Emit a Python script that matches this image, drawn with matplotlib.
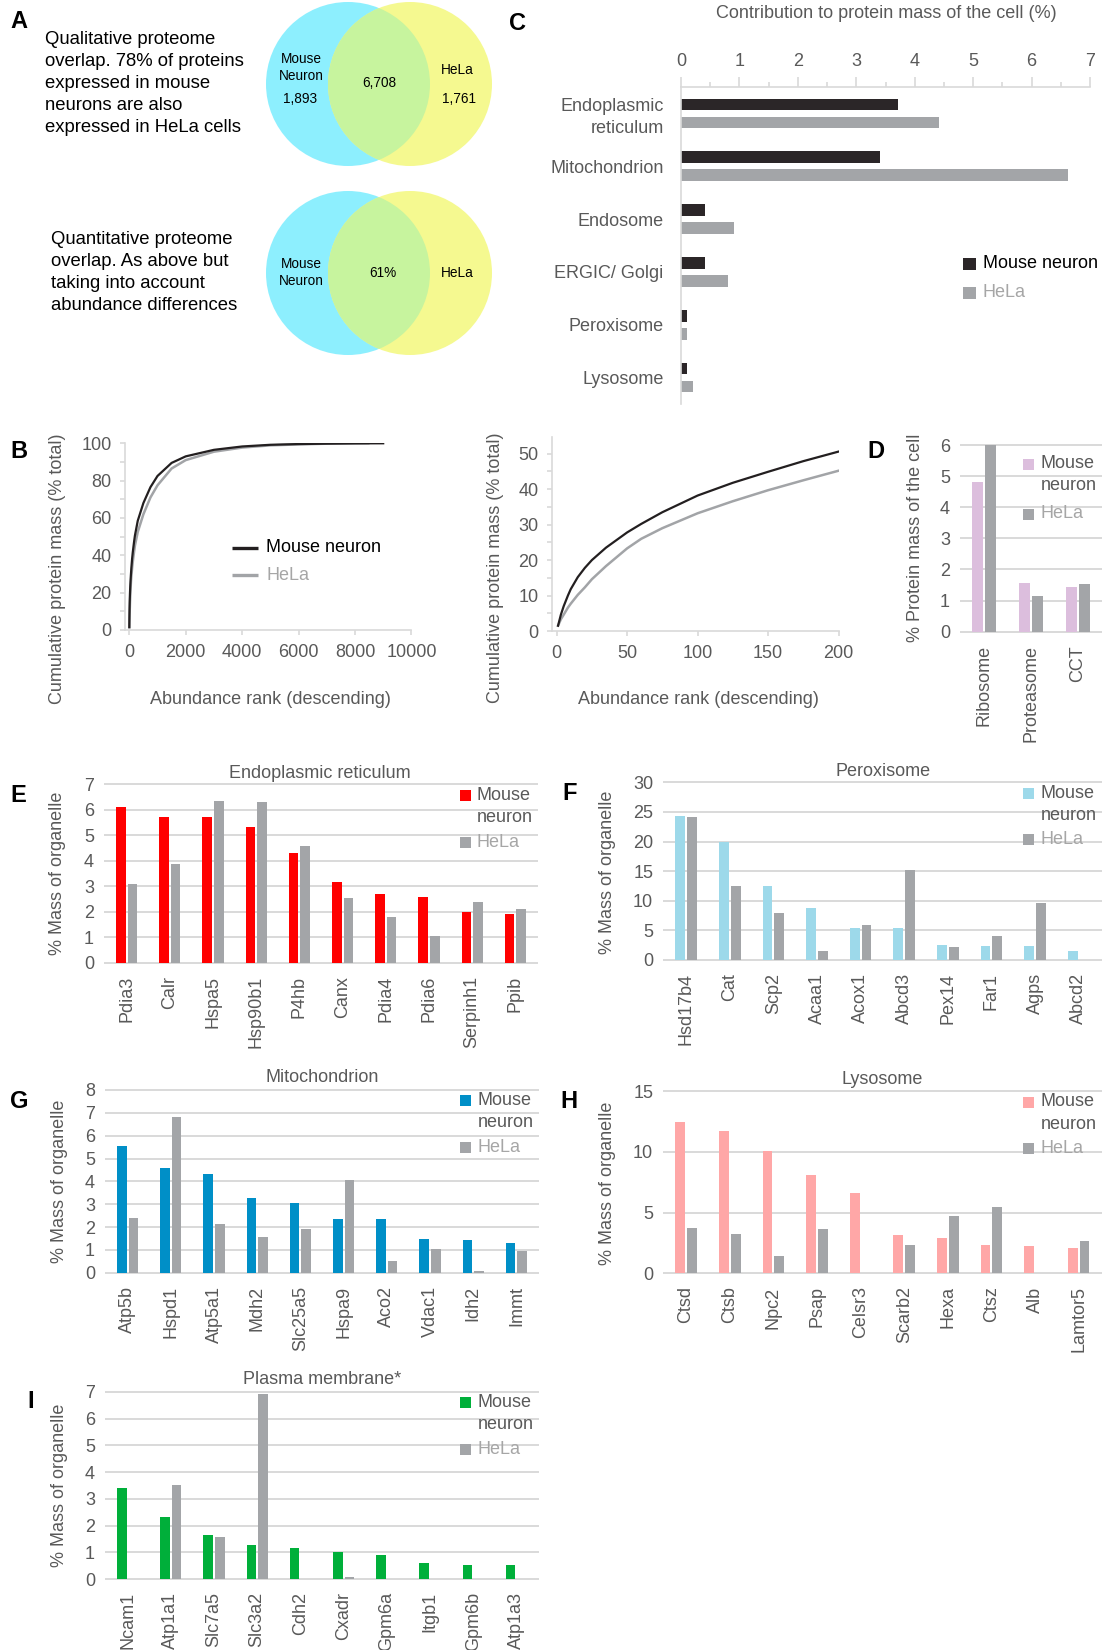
import matplotlib
matplotlib.use("Agg")
import matplotlib.pyplot as plt
from matplotlib.patches import Circle, Rectangle
from matplotlib.ticker import MultipleLocator
import numpy as np

plt.rcParams['font.family'] = ['Liberation Sans', 'DejaVu Sans']
plt.rcParams['font.size'] = 13

# ---------------- data ----------------
# A: proteome overlap
venn_only_mouse = 1893
venn_shared = 6708
venn_only_hela = 1761
qual_overlap_pct = 78
quant_overlap_pct = 61

# B: cumulative protein mass vs abundance rank
mouse_rank = [1, 3, 5, 8, 10, 15, 20, 25, 35, 50, 60, 75, 100, 125, 150, 175, 200,
              300, 500, 750, 1000, 1500, 2000, 3000, 4000, 5000, 6000, 7000, 8000, 9000]
mouse_cum = [1.5, 4.6, 7.0, 10.0, 11.8, 15.2, 17.8, 20.0, 23.5, 27.8, 30.2, 33.5, 38.2, 41.8,
             44.9, 47.9, 50.6, 58.5, 68.0, 76.5, 82.5, 89.5, 93.0, 96.5, 98.3, 99.2, 99.6,
             99.8, 99.95, 100.0]
hela_rank = [1, 3, 5, 8, 10, 15, 20, 25, 35, 50, 60, 75, 100, 125, 150, 175, 200,
             300, 500, 750, 1000, 1500, 2000, 3000, 4000, 5000, 6000, 7000, 8470]
hela_cum = [1.5, 3.3, 4.6, 6.6, 7.7, 10.2, 12.3, 14.6, 18.3, 23.3, 26.0, 29.0, 33.2, 36.6,
            39.7, 42.5, 45.2, 52.5, 62.0, 71.0, 77.5, 86.5, 91.0, 95.5, 97.7, 98.9, 99.4,
            99.8, 100.0]

# C: organelle contribution to protein mass (%)
c_categories = ["Endoplasmic\nreticulum", "Mitochondrion", "Endosome", "ERGIC/ Golgi",
                "Peroxisome", "Lysosome"]
c_mouse = [3.72, 3.41, 0.41, 0.41, 0.10, 0.10]
c_hela = [4.42, 6.63, 0.91, 0.81, 0.10, 0.20]

# D: complexes
d_categories = ["Ribosome", "Proteasome", "CCT"]
d_mouse = [4.82, 1.56, 1.44]
d_hela = [6.00, 1.15, 1.53]

# E: endoplasmic reticulum
er_genes = ["Pdia3", "Calr", "Hspa5", "Hsp90b1", "P4hb", "Canx", "Pdia4", "Pdia6",
            "Serpinh1", "Ppib"]
er_mouse = [6.10, 5.72, 5.72, 5.33, 4.30, 3.17, 2.70, 2.58, 1.99, 1.91]
er_hela = [3.09, 3.87, 6.35, 6.31, 4.58, 2.54, 1.79, 1.05, 2.38, 2.11]

# F: peroxisome
px_genes = ["Hsd17b4", "Cat", "Scp2", "Acaa1", "Acox1", "Abcd3", "Pex14", "Far1", "Agps",
            "Abcd2"]
px_mouse = [24.3, 20.0, 12.5, 8.8, 5.4, 5.4, 2.5, 2.4, 2.4, 1.5]
px_hela = [24.1, 12.5, 7.9, 1.5, 5.9, 15.2, 2.2, 4.05, 9.6, 0.0]

# G: mitochondrion
mt_genes = ["Atp5b", "Hspd1", "Atp5a1", "Mdh2", "Slc25a5", "Hspa9", "Aco2", "Vdac1", "Idh2",
            "Immt"]
mt_mouse = [5.55, 4.58, 4.32, 3.27, 3.05, 2.35, 2.35, 1.47, 1.43, 1.30]
mt_hela = [2.39, 6.82, 2.13, 1.56, 1.91, 4.06, 0.51, 1.04, 0.07, 0.95]

# H: lysosome
ly_genes = ["Ctsd", "Ctsb", "Npc2", "Psap", "Celsr3", "Scarb2", "Hexa", "Ctsz", "Alb",
            "Lamtor5"]
ly_mouse = [12.45, 11.7, 10.06, 8.09, 6.61, 3.15, 2.91, 2.33, 2.25, 2.08]
ly_hela = [3.73, 3.24, 1.43, 3.65, 0.0, 2.33, 4.72, 5.46, 0.0, 2.66]

# I: plasma membrane
pm_genes = ["Ncam1", "Atp1a1", "Slc7a5", "Slc3a2", "Cdh2", "Cxadr", "Gpm6a", "Itgb1",
            "Gpm6b", "Atp1a3"]
pm_mouse = [3.41, 2.32, 1.65, 1.27, 1.16, 1.01, 0.90, 0.60, 0.52, 0.52]
pm_hela = [0.0, 3.52, 1.56, 6.94, 0.0, 0.09, 0.0, 0.0, 0.0, 0.0]

# ---------------- styling ----------------
W, H = 1105, 1650
TXT = '#595959'
LIGHT = '#A6A6A6'
GRID = '#D9D9D9'
HELA = '#A3A5A8'
FS = 13

fig = plt.figure(figsize=(W / 100, H / 100), dpi=100)


def px_axes(x0, y0, x1, y1):
    """Axes placed by pixel box (top-left origin)."""
    return fig.add_axes([x0 / W, 1 - y1 / H, (x1 - x0) / W, (y1 - y0) / H])


canvas = px_axes(0, 0, W, H)
canvas.set_xlim(0, W)
canvas.set_ylim(H, 0)
canvas.axis('off')
canvas.set_zorder(10)


def letter(x, y, s):
    canvas.text(x, y, s, fontsize=17, fontweight='bold', ha='center', va='center',
                color='black')


def square_legend(x, y, color, dark='#595959', step1=22.3, step2=46.8, size=11):
    canvas.add_patch(Rectangle((x, y - size / 2), size, size, facecolor=color,
                               edgecolor='none'))
    canvas.add_patch(Rectangle((x, y + step2 - size / 2), size, size, facecolor=HELA,
                               edgecolor='none'))
    canvas.text(x + 17.5, y, "Mouse", fontsize=FS, color=dark, va='center', ha='left')
    canvas.text(x + 17.5, y + step1, "neuron", fontsize=FS, color=dark, va='center',
                ha='left')
    canvas.text(x + 17.5, y + step2, "HeLa", fontsize=FS, color=LIGHT, va='center',
                ha='left')


# ---------------- A: Venn diagrams ----------------
letter(19, 21, "A")
canvas.text(45, 83.5,
            "Qualitative proteome\noverlap. %d%% of proteins\nexpressed in mouse\n"
            "neurons are also\nexpressed in HeLa cells" % qual_overlap_pct,
            fontsize=13.3, ha='left', va='center', linespacing=1.38, color='black')
canvas.text(51, 272.5,
            "Quantitative proteome\noverlap. As above but\ntaking into account\n"
            "abundance differences",
            fontsize=13.3, ha='left', va='center', linespacing=1.38, color='black')


def venn(cy):
    blue = Circle((348, cy), 82, facecolor='#8DEFFE', edgecolor='none')
    yellow = Circle((410, cy), 82, facecolor='#F5F990', edgecolor='none')
    canvas.add_patch(blue)
    canvas.add_patch(yellow)
    both = Circle((410, cy), 82, facecolor='#C7F49E', edgecolor='none')
    canvas.add_patch(both)
    both.set_clip_path(blue)


venn(84)
venn(273)
vfs = 9.8
canvas.text(301, 67.5, "Mouse\nNeuron", fontsize=vfs, ha='center', va='center',
            linespacing=1.3)
canvas.text(300, 99, f"{venn_only_mouse:,}", fontsize=vfs, ha='center', va='center')
canvas.text(379, 83, f"{venn_shared:,}", fontsize=vfs, ha='center', va='center')
canvas.text(457, 70, "HeLa", fontsize=vfs, ha='center', va='center')
canvas.text(459, 99, f"{venn_only_hela:,}", fontsize=vfs, ha='center', va='center')
canvas.text(301, 272.5, "Mouse\nNeuron", fontsize=vfs, ha='center', va='center',
            linespacing=1.3)
canvas.text(383, 273, f"{quant_overlap_pct}%", fontsize=vfs, ha='center', va='center')
canvas.text(457, 273, "HeLa", fontsize=vfs, ha='center', va='center')

# ---------------- C: organelle contribution ----------------
letter(517, 23, "C")
canvas.text(886, 13, "Contribution to protein mass of the cell (%)", fontsize=FS,
            color=TXT, ha='center', va='center')
axc = px_axes(681, 87, 1090, 404)
yc = np.arange(len(c_categories))
axc.barh(yc - 0.17, c_mouse, 0.22, color='#2B2628')
axc.barh(yc + 0.17, c_hela, 0.22, color=HELA)
axc.set_xlim(0, 7)
axc.set_ylim(len(c_categories) - 0.5, -0.5)
axc.xaxis.tick_top()
axc.set_xticks(range(8))
axc.xaxis.set_minor_locator(MultipleLocator(0.5))
axc.tick_params(axis='x', which='major', length=7.5, width=1.2, color=GRID,
                labelcolor=TXT, labelsize=FS, pad=5)
axc.tick_params(axis='x', which='minor', length=3.6, width=1.2, color=GRID)
axc.set_yticks(yc)
axc.set_yticklabels(c_categories, linespacing=1.35)
axc.tick_params(axis='y', length=0, pad=12.5, labelcolor=TXT, labelsize=FS)
for side in ('right', 'bottom'):
    axc.spines[side].set_visible(False)
for side in ('top', 'left'):
    axc.spines[side].set_color(GRID)
    axc.spines[side].set_linewidth(1.2)
axc.patch.set_alpha(0)

canvas.add_patch(Rectangle((963, 257.5), 12.5, 12.5, facecolor='#2B2628', edgecolor='none'))
canvas.add_patch(Rectangle((963, 286.5), 12.5, 12.5, facecolor=HELA, edgecolor='none'))
canvas.text(983, 263.5, "Mouse neuron", fontsize=FS, color='black', va='center')
canvas.text(983, 292.5, "HeLa", fontsize=FS, color=LIGHT, va='center')

# ---------------- B: cumulative protein mass ----------------
letter(19, 451, "B")


def cumulative_axes(box, xlim, ylim, xmajor, ymajor, yminor):
    ax = px_axes(*box)
    ax.plot(hela_rank, hela_cum, color='#A2A4A7', lw=1.8)
    ax.plot(mouse_rank, mouse_cum, color='#231F20', lw=1.6)
    ax.yaxis.set_minor_locator(MultipleLocator(yminor))
    ax.set_xticks(np.arange(0, xlim[1] + 1, xmajor))
    ax.set_yticks(np.arange(0, ylim[1] + 0.01, ymajor))
    ax.set_xlim(*xlim)
    ax.set_ylim(*ylim)
    ax.tick_params(axis='both', which='both', direction='out', length=3.8, width=1.2,
                   color=GRID, labelcolor=TXT, labelsize=FS)
    ax.tick_params(axis='y', pad=6)
    ax.tick_params(axis='x', pad=6.5)
    for side in ('top', 'right'):
        ax.spines[side].set_visible(False)
    for side in ('left', 'bottom'):
        ax.spines[side].set_color(GRID)
        ax.spines[side].set_linewidth(1.2)
    ax.patch.set_alpha(0)
    return ax


cumulative_axes((125, 443.3, 411.4, 630), (-152, 10000), (0, 100), 2000, 20, 10)
cumulative_axes((552, 436.7, 838.5, 631), (-3.3, 200), (0, 54.8), 50, 10, 5)
canvas.text(57, 569, "Cumulative protein mass (% total)", fontsize=FS, color=TXT,
            rotation=90, ha='center', va='center')
canvas.text(270, 699, "Abundance rank (descending)", fontsize=FS, color=TXT,
            ha='center', va='center')
canvas.text(495, 568, "Cumulative protein mass (% total)", fontsize=FS, color=TXT,
            rotation=90, ha='center', va='center')
canvas.text(698.6, 700, "Abundance rank (descending)", fontsize=FS, color=TXT,
            ha='center', va='center')
canvas.plot([232, 258], [547.7, 547.7], color='#231F20', lw=2.4, solid_capstyle='butt')
canvas.plot([232, 258], [575, 575], color='#A2A4A7', lw=2.4, solid_capstyle='butt')
canvas.text(266, 547.7, "Mouse neuron", fontsize=FS, color='black', va='center')
canvas.text(266, 575, "HeLa", fontsize=FS, color=LIGHT, va='center')


# ---------------- bar panels D-I ----------------
def grouped_bars(box, labels, mouse, hela, color, ymax, ystep, offset=0.135, width=0.225):
    ax = px_axes(*box)
    x = np.arange(len(labels))
    ax.bar(x - offset, mouse, width, color=color, zorder=3)
    ax.bar(x + offset, hela, width, color=HELA, zorder=3)
    ax.set_xlim(-0.5, len(labels) - 0.5)
    ax.set_ylim(0, ymax)
    ax.set_yticks(np.arange(0, ymax + 0.01, ystep))
    ax.yaxis.grid(True, color=GRID, lw=1.4)
    ax.set_axisbelow(True)
    for line in ax.get_ygridlines():
        line.set_clip_on(False)
    for s in ax.spines.values():
        s.set_visible(False)
    ax.set_xticks(x)
    ax.set_xticklabels(labels, rotation=90)
    ax.tick_params(axis='both', length=0, labelcolor=TXT, labelsize=FS)
    ax.tick_params(axis='x', pad=9.5)
    ax.tick_params(axis='y', pad=8)
    ax.patch.set_alpha(0)
    return ax


# D
letter(876, 451, "D")
grouped_bars((961, 445, 1101, 631.7), d_categories, d_mouse, d_hela, '#DCBEDD', 6, 1,
             offset=0.14, width=0.235)
canvas.text(915, 538, "% Protein mass of the cell", fontsize=FS, color=TXT, rotation=90,
            ha='center', va='center')
square_legend(1023, 464, '#DCBEDD', step1=21.7, step2=50)

# E
letter(18, 795, "E")
grouped_bars((105, 784.3, 537, 962.7), er_genes, er_mouse, er_hela, '#FF0000', 7, 1)
canvas.text(320, 773, "Endoplasmic reticulum", fontsize=FS, color=TXT, ha='center',
            va='center')
canvas.text(57, 873, "% Mass of organelle", fontsize=FS, color=TXT, rotation=90,
            ha='center', va='center')
square_legend(459.5, 795.5, '#FF0000')

# F
letter(570, 793, "F")
grouped_bars((664.3, 782.3, 1100.5, 960), px_genes, px_mouse, px_hela, '#9DD9EA', 30, 5)
canvas.text(882.6, 771, "Peroxisome", fontsize=FS, color=TXT, ha='center', va='center')
canvas.text(607, 872, "% Mass of organelle", fontsize=FS, color=TXT, rotation=90,
            ha='center', va='center')
square_legend(1023, 793, '#9DD9EA')

# G
letter(19.6, 1101, "G")
grouped_bars((106, 1090, 538, 1272.7), mt_genes, mt_mouse, mt_hela, '#008FC7', 8, 1)
canvas.text(322.5, 1078, "Mitochondrion", fontsize=FS, color=TXT, ha='center', va='center')
canvas.text(59, 1181, "% Mass of organelle", fontsize=FS, color=TXT, rotation=90,
            ha='center', va='center')
square_legend(460, 1100.5, '#008FC7')

# H
letter(568.7, 1101, "H")
grouped_bars((664.3, 1091, 1100.5, 1273.3), ly_genes, ly_mouse, ly_hela, '#FFA7A7', 15, 5)
canvas.text(882.6, 1079, "Lysosome", fontsize=FS, color=TXT, ha='center', va='center')
canvas.text(607, 1183, "% Mass of organelle", fontsize=FS, color=TXT, rotation=90,
            ha='center', va='center')
square_legend(1023, 1102, '#FFA7A7')

# I
letter(30.4, 1402, "I")
grouped_bars((106, 1392, 538, 1579), pm_genes, pm_mouse, pm_hela, '#00AF3A', 7, 1)
canvas.text(322.5, 1380, "Plasma membrane*", fontsize=FS, color=TXT, ha='center',
            va='center')
canvas.text(59, 1485, "% Mass of organelle", fontsize=FS, color=TXT, rotation=90,
            ha='center', va='center')
square_legend(460, 1402.5, '#00AF3A')

fig.savefig("out.png", dpi=100)
